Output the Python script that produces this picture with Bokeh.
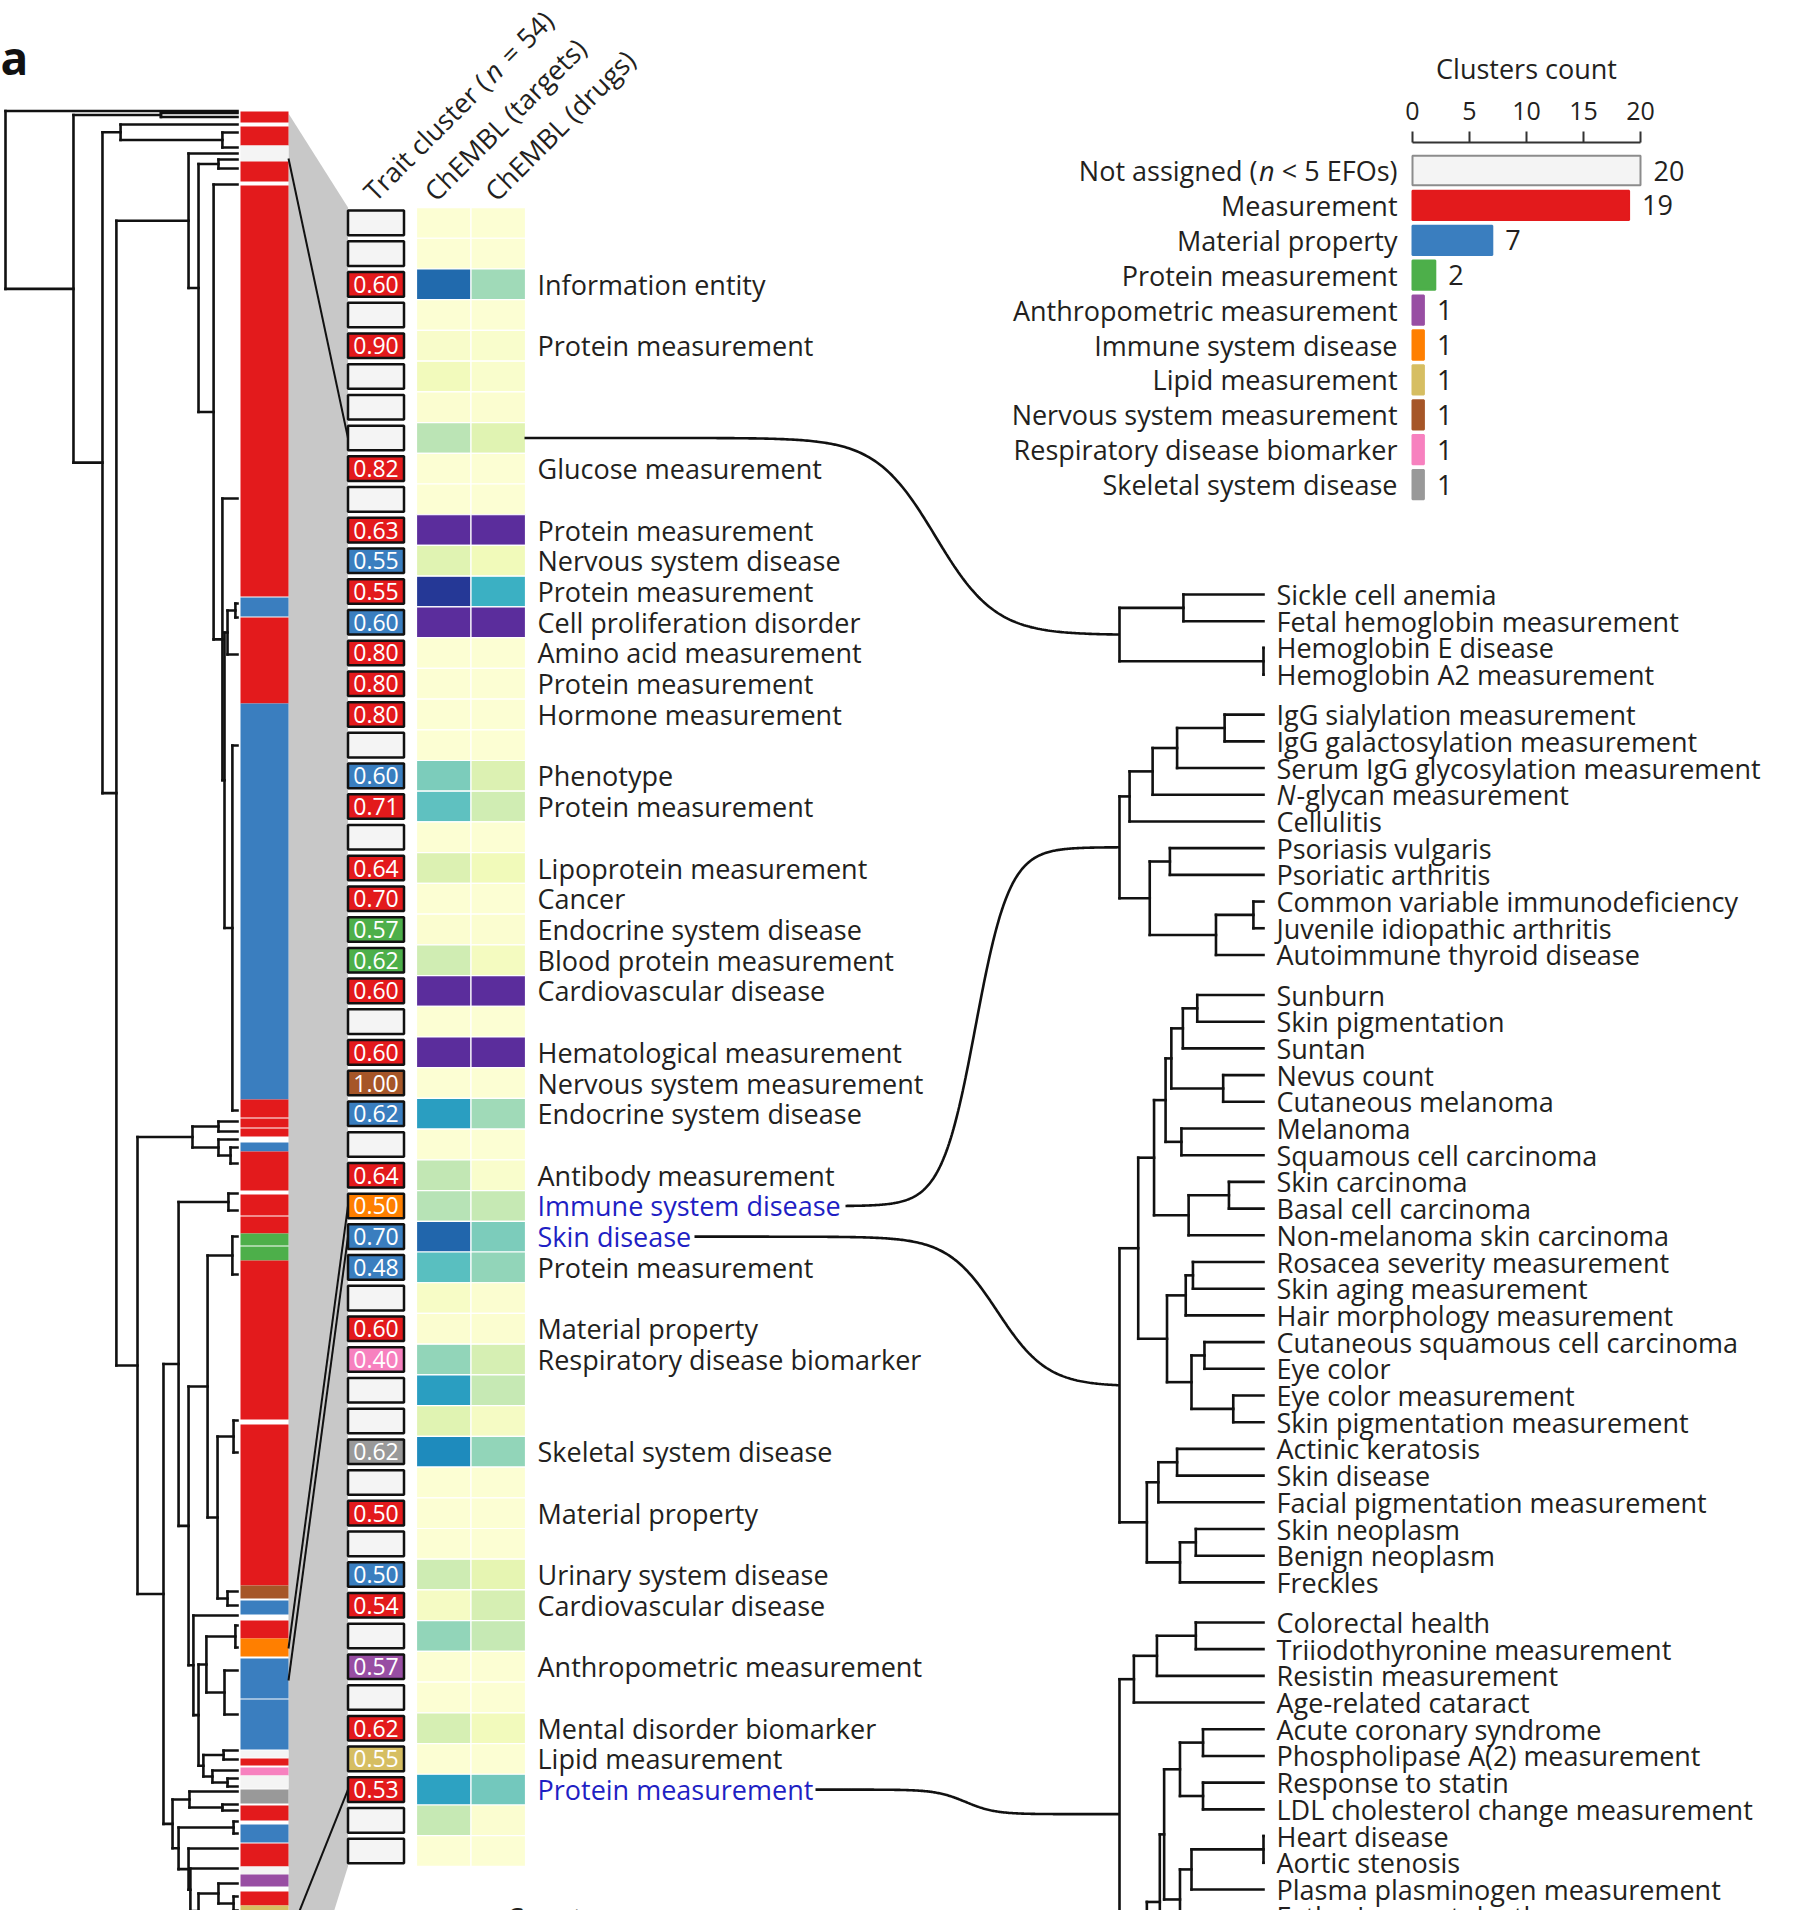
import numpy as np
from bokeh.plotting import figure
from bokeh.models import Range1d, ColumnDataSource, LinearColorMapper
from bokeh.core.properties import value
from bokeh.embed import file_html
from bokeh.resources import INLINE
from bokeh.palettes import YlGnBu9

# ======================= DATA =======================
cat_codes = ["NA", "M", "MP", "PM", "AM", "ISD", "LM", "NSM", "RDB", "SSD"]
cat_colors = {"NA": "#f4f4f4", "M": "#e31a1c", "MP": "#3a7ebf", "PM": "#4daf4a", "AM": "#984ea3",
              "ISD": "#ff7f00", "LM": "#d6be62", "NSM": "#a65628", "RDB": "#f781bf", "SSD": "#999999"}

# bar chart (clusters count)
bar_labels = ["Not assigned (n < 5 EFOs)", "Measurement", "Material property", "Protein measurement",
              "Anthropometric measurement", "Immune system disease", "Lipid measurement",
              "Nervous system measurement", "Respiratory disease biomarker", "Skeletal system disease"]
bar_counts = [20, 19, 7, 2, 1, 1, 1, 1, 1, 1]
bar_cats = ["NA", "M", "MP", "PM", "AM", "ISD", "LM", "NSM", "RDB", "SSD"]
axis_ticks = [0, 5, 10, 15, 20]

# 54 trait clusters
trait_scores = [None, None, 0.60, None, 0.90, None, None, None, 0.82, None,
                0.63, 0.55, 0.55, 0.60, 0.80, 0.80, 0.80, None, 0.60, 0.71,
                None, 0.64, 0.70, 0.57, 0.62, 0.60, None, 0.60, 1.00, 0.62,
                None, 0.64, 0.50, 0.70, 0.48, None, 0.60, 0.40, None, None,
                0.62, None, 0.50, None, 0.50, 0.54, None, 0.57, None, 0.62,
                0.55, 0.53, None, None]
trait_cats = ["NA", "NA", "M", "NA", "M", "NA", "NA", "NA", "M", "NA",
              "M", "MP", "M", "MP", "M", "M", "M", "NA", "MP", "M",
              "NA", "M", "M", "PM", "PM", "M", "NA", "M", "NSM", "MP",
              "NA", "M", "ISD", "MP", "MP", "NA", "M", "RDB", "NA", "NA",
              "SSD", "NA", "M", "NA", "MP", "M", "NA", "AM", "NA", "M",
              "LM", "M", "NA", "NA"]
trait_labels = ["", "", "Information entity", "", "Protein measurement", "", "", "", "Glucose measurement", "",
                "Protein measurement", "Nervous system disease", "Protein measurement", "Cell proliferation disorder",
                "Amino acid measurement", "Protein measurement", "Hormone measurement", "", "Phenotype",
                "Protein measurement",
                "", "Lipoprotein measurement", "Cancer", "Endocrine system disease", "Blood protein measurement",
                "Cardiovascular disease", "", "Hematological measurement", "Nervous system measurement",
                "Endocrine system disease",
                "", "Antibody measurement", "Immune system disease", "Skin disease", "Protein measurement", "",
                "Material property", "Respiratory disease biomarker", "", "",
                "Skeletal system disease", "", "Material property", "", "Urinary system disease",
                "Cardiovascular disease", "", "Anthropometric measurement", "", "Mental disorder biomarker",
                "Lipid measurement", "Protein measurement", "", ""]
highlighted_rows = [32, 33, 51]

SAT = 2.0  # above the colour scale (purple cells)
chembl_targets = [0.02, 0.02, 0.72, 0.02, 0.05, 0.09, 0.03, 0.27, 0.02, 0.02,
                  SAT, 0.17, 0.86, SAT, 0.02, 0.02, 0.02, 0.02, 0.38, 0.44,
                  0.02, 0.18, 0.02, 0.03, 0.22, SAT, 0.02, SAT, 0.02, 0.58,
                  0.02, 0.26, 0.28, 0.73, 0.45, 0.06, 0.03, 0.34, 0.58, 0.17,
                  0.64, 0.02, 0.02, 0.02, 0.23, 0.07, 0.34, 0.02, 0.02, 0.20,
                  0.02, 0.57, 0.25, 0.02]
chembl_drugs = [0.02, 0.02, 0.32, 0.02, 0.04, 0.04, 0.03, 0.17, 0.02, 0.02,
                SAT, 0.10, 0.52, SAT, 0.02, 0.02, 0.02, 0.02, 0.18, 0.22,
                0.02, 0.10, 0.02, 0.03, 0.08, SAT, 0.02, SAT, 0.02, 0.32,
                0.02, 0.04, 0.25, 0.38, 0.34, 0.03, 0.03, 0.20, 0.25, 0.07,
                0.34, 0.02, 0.02, 0.02, 0.15, 0.20, 0.25, 0.02, 0.02, 0.09,
                0.02, 0.40, 0.03, 0.02]

# colour strip of all traits (positions along the strip, category)
strip_start = [113, 128, 147, 163, 187, 599, 619, 705, 1101, 1120, 1130, 1144, 1153, 1196, 1218, 1235, 1248,
               1262, 1426, 1587, 1602, 1622, 1640, 1660, 1701, 1752, 1760, 1769, 1777, 1791, 1807, 1826, 1845,
               1868, 1876, 1893, 1907]
strip_end = [124, 147, 163, 183, 598, 618, 705, 1101, 1119, 1129, 1138, 1153, 1192, 1217, 1235, 1247, 1262,
             1421, 1587, 1600, 1616, 1640, 1658, 1700, 1751, 1759, 1767, 1777, 1790, 1805, 1822, 1844, 1868,
             1876, 1888, 1907, 1940]
strip_cat = ["M", "M", "NA", "M", "M", "MP", "M", "MP", "M", "M", "M", "MP", "M", "M", "M", "PM", "PM",
             "M", "M", "NSM", "MP", "M", "ISD", "MP", "MP", "NA", "M", "RDB", "NA", "SSD", "M", "MP", "M",
             "NA", "AM", "M", "LM"]

# left dendrogram: (merge height, child, child); leaves = strip positions
n222b = (0.065, 500, (0.056, (0.043, (0.009, 605, 619), 656), (0.022, 747, 1112)))
n188 = (0.211, 155, (0.168, (0.082, 161, 170), (0.103, 186, n222b)))
n192 = (0.194, (0.082, 1123, 1133), (0.082, 1141, (0.03, 1149, 1165)))
n207 = (0.129, (0.022, 1238, 1276), (0.086, (0.017, 1422, 1454), (0.043, 1593, 1607)))
n193 = (0.19, 1617, (0.168, (0.134, (0.009, 1627, 1649), (0.056, 1672, 1716)),
                     (0.147, (0.06, 1752, 1761), (0.108, 1772, (0.043, 1780, 1788)))))
n178 = (0.254, (0.039, 1195, 1212), (0.211, n207, n193))
n172 = (0.28, (0.207, 1793, (0.065, 1806, 1812)),
        (0.254, (0.017, 1823, 1835), (0.211, 1850, (0.203, 1870, (0.168, (0.082, 1885, (0.017, 1898, 1912)), 1930)))))
n116 = (0.522, n188, (0.431, n192, (0.319, n178, n172)))
left_tree = (1.0, 112.5, (0.707, (0.33, 114.5, 118.5), (0.582, (0.504, 126, (0.065, 134, 149)), n116)))

# right dendrograms (terms of highlighted clusters)
right_groups = [
    ["Sickle cell anemia", "Fetal hemoglobin measurement", "Hemoglobin E disease", "Hemoglobin A2 measurement"],
    ["IgG sialylation measurement", "IgG galactosylation measurement", "Serum IgG glycosylation measurement",
     "N-glycan measurement", "Cellulitis", "Psoriasis vulgaris", "Psoriatic arthritis",
     "Common variable immunodeficiency", "Juvenile idiopathic arthritis", "Autoimmune thyroid disease"],
    ["Sunburn", "Skin pigmentation", "Suntan", "Nevus count", "Cutaneous melanoma", "Melanoma",
     "Squamous cell carcinoma", "Skin carcinoma", "Basal cell carcinoma", "Non-melanoma skin carcinoma",
     "Rosacea severity measurement", "Skin aging measurement", "Hair morphology measurement",
     "Cutaneous squamous cell carcinoma", "Eye color", "Eye color measurement", "Skin pigmentation measurement",
     "Actinic keratosis", "Skin disease", "Facial pigmentation measurement", "Skin neoplasm", "Benign neoplasm",
     "Freckles"],
    ["Colorectal health", "Triiodothyronine measurement", "Resistin measurement", "Age-related cataract",
     "Acute coronary syndrome", "Phospholipase A(2) measurement", "Response to statin",
     "LDL cholesterol change measurement", "Heart disease", "Aortic stenosis", "Plasma plasminogen measurement",
     "Father's age at death", "", "", ""],
]
group_start = [0, 4.5, 15, 38.5]
right_trees = [
    (1.0, (0.556, 0, 1), (0.0, 2, 3)),
    (1.0, (0.93, (0.77, (0.60, (0.27, 4, 5), 6), 7), 8), (0.79, (0.65, 9, 10), (0.33, (0.07, 11, 12), 13))),
    (1.0, (0.87, (0.76, (0.68, (0.64, (0.56, (0.46, 14, 15), 16), (0.28, 17, 18)), (0.57, 19, 20)),
                  (0.52, (0.24, 21, 22), 23)),
           (0.67, (0.54, (0.49, 24, 25), 26), (0.50, (0.41, 27, 28), (0.21, 29, 30)))),
     (0.81, (0.73, (0.60, 31, 32), 33), (0.58, (0.47, 34, 35), 36))),
    (1.0, (0.90, (0.74, (0.47, 37, 38), 39), 40),
     (0.81, (0.72, (0.69, (0.58, (0.42, 41, 42), (0.42, 43, 44)),
                    (0.58, (0.50, (0.0, 45, 46), 47), (0.31, 48, 49))), 50), 51)),
]
# links: heatmap row -> right group
link_rows = [7, 32, 33, 51]
link_groups = [0, 1, 2, 3]
# strip position of each highlighted cluster -> its row
zoom_strip_pos = [160, 1650, 1682, 1940]
zoom_rows = [7, 32, 33, 51]

# ======================= LAYOUT =======================
FONT = value("Open Sans")
INK = "#231f20"
X0, X1, YB, YT = 0, 1778, 1912, 2
ROW_Y0, ROW_DY = 224.4, 30.72
BAR_Y0, BAR_DY = 172.0, 34.9
CNT_X0, CNT_DX = 1412.0, 11.4
RL_Y0, RL_DY = 596.0, 26.7
LT_X0, LT_DX = 237.0, -232.0
RT_X0, RT_DX = 1263.0, -144.0
STRIP_L, STRIP_R = 240, 288
BOX_X, BOX_W = 375.5, 56
HM_X = [443.25, 497.75]
HM_W = 54.5
LABEL_X = 537
RLABEL_X = 1276


def hr(o, s):
    return Range1d((X0 - o) / s, (X1 - o) / s)


def vr(o, s):
    return Range1d((YB - o) / s, (YT - o) / s)


p = figure(width=1778, height=1910, x_range=Range1d(X0, X1), y_range=Range1d(YB, YT),
           output_backend="svg", toolbar_location=None, min_border=0,
           x_axis_location=None, y_axis_location=None)
p.grid.visible = False
p.outline_line_color = None
p.extra_x_ranges = {"cnt": hr(CNT_X0, CNT_DX), "lh": hr(LT_X0, LT_DX), "rh": hr(RT_X0, RT_DX)}
p.extra_y_ranges = {"row": vr(ROW_Y0, ROW_DY), "bar": vr(BAR_Y0, BAR_DY), "rleaf": vr(RL_Y0, RL_DY)}


def row_y(r):
    return ROW_Y0 + r * ROW_DY


def layout_tree(node, pos, segs):
    if not isinstance(node, tuple):
        return pos(node), 0.0
    h, a, b = node
    ya, ha = layout_tree(a, pos, segs)
    yb, hb = layout_tree(b, pos, segs)
    segs += [(h, ya, h, yb), (h, ya, ha, ya), (h, yb, hb, yb)]
    return (ya + yb) / 2.0, h


# ---- grey zoom wedge ----
top_box = ROW_Y0 - ROW_DY / 2
bot_box = ROW_Y0 + (len(trait_scores) - 0.5) * ROW_DY
p.patch(x=[STRIP_R, BOX_X - BOX_W / 2, BOX_X - BOX_W / 2, STRIP_R],
        y=[min(strip_start) + 2, top_box, bot_box, bot_box + 190], color="#c8c8c8", line_color=None)

# ---- colour strip ----
p.quad(left=STRIP_L, right=STRIP_R, top=strip_start, bottom=strip_end,
       fill_color=[cat_colors[c] for c in strip_cat], line_color=None)

# ---- left dendrogram ----
segs = []
layout_tree(left_tree, lambda v: v, segs)
s = np.array(segs)
p.segment(x0=s[:, 0], y0=s[:, 1], x1=s[:, 2], y1=s[:, 3], x_range_name="lh",
          line_color="#111111", line_width=2.6, line_cap="square")

# ---- lines from strip to cluster boxes ----
p.segment(x0=[STRIP_R] * 4, y0=zoom_strip_pos, x1=[BOX_X - BOX_W / 2] * 4,
          y1=[row_y(r) for r in zoom_rows], line_color="#111111", line_width=2)

# ---- heatmap ----
base = list(reversed(YlGnBu9))
rgb = np.array([[int(c[i:i + 2], 16) for i in (1, 3, 5)] for c in base], float)
tt = np.linspace(0, 1, 256)
pp = np.linspace(0, 1, 9)
pal = ["#%02x%02x%02x" % tuple(int(round(np.interp(t, pp, rgb[:, k]))) for k in range(3)) for t in tt]
mapper = LinearColorMapper(palette=pal, low=0, high=1, high_color="#5b2d9c")
rows = list(range(len(trait_scores)))
hm = ColumnDataSource(dict(x=[HM_X[0]] * len(rows) + [HM_X[1]] * len(rows), y=rows + rows,
                           v=chembl_targets + chembl_drugs))
p.rect(x="x", y="y", width=HM_W, height=1.0, source=hm, y_range_name="row",
       fill_color={"field": "v", "transform": mapper}, line_color="white", line_width=1.2)

# ---- trait cluster boxes ----
p.rect(x=[BOX_X] * len(rows), y=rows, width=BOX_W, height=0.8, y_range_name="row",
       fill_color=[cat_colors[c] for c in trait_cats], line_color="#111111", line_width=2.5)
sc_rows = [r for r in rows if trait_scores[r] is not None]
p.text(x=[BOX_X] * len(sc_rows), y=sc_rows, text=["%.2f" % trait_scores[r] for r in sc_rows],
       y_range_name="row", text_align="center", text_baseline="middle", text_font=FONT,
       text_font_size="23px", text_color="white")

# ---- row labels ----
lab_rows = [r for r in rows if trait_labels[r]]
p.text(x=[LABEL_X] * len(lab_rows), y=lab_rows, text=[trait_labels[r] for r in lab_rows],
       y_range_name="row", text_align="left", text_baseline="middle", text_font=FONT,
       text_font_size="27px",
       text_color=["#1f1fc4" if r in highlighted_rows else INK for r in lab_rows])

# ---- rotated column headers ----
c45 = np.cos(np.pi / 4)
hx = [BOX_X - 8, HM_X[0] - 15, HM_X[1] - 9]
hy = top_box - 12
pieces = [("Trait cluster (", 0, "normal", 0), ("n", 168, "italic", 0), ("=", 193, "normal", 0),
          ("54)", 216, "normal", 0),
          ("ChEMBL (targets)", 0, "normal", 1), ("ChEMBL (drugs)", 0, "normal", 2)]
for txt, d, style, col in pieces:
    p.text(x=[hx[col] + d * c45], y=[hy - d * c45], text=[txt], angle=np.pi / 4,
           text_align="left", text_baseline="alphabetic", text_font=FONT, text_font_size="27px",
           text_font_style=style, text_color=INK)

# ---- panel letter ----
p.text(x=[0], y=[58], text=["a"], text_align="left", text_baseline="alphabetic",
       text_font=FONT, text_font_size="46px", text_font_style="bold", text_color="#111111")

# ---- bar chart ----
ks = list(range(len(bar_counts)))
p.hbar(y=ks, left=0, right=bar_counts, height=0.84, x_range_name="cnt", y_range_name="bar",
       fill_color=[cat_colors[c] for c in bar_cats],
       line_color=["#8c8c8c" if c == "NA" else cat_colors[c] for c in bar_cats], line_width=2)
p.text(x=bar_counts, y=ks, text=[str(c) for c in bar_counts], x_offset=13, x_range_name="cnt",
       y_range_name="bar", text_align="left", text_baseline="middle", text_font=FONT,
       text_font_size="27px", text_color=INK)
p.text(x=[0] * (len(ks) - 1), y=ks[1:], text=bar_labels[1:], x_offset=-15, x_range_name="cnt",
       y_range_name="bar", text_align="right", text_baseline="middle", text_font=FONT,
       text_font_size="27px", text_color=INK)
for txt, off, style in [("< 5 EFOs)", -15, "normal"), ("n", -138, "italic"), ("Not assigned (", -155, "normal")]:
    p.text(x=[0], y=[0], text=[txt], x_offset=off, x_range_name="cnt", y_range_name="bar",
           text_align="right", text_baseline="middle", text_font=FONT, text_font_size="27px",
           text_font_style=style, text_color=INK)
# axis drawn on the count scale
AX_Y = 144
p.segment(x0=[axis_ticks[0]], y0=[AX_Y], x1=[axis_ticks[-1]], y1=[AX_Y], x_range_name="cnt",
          line_color="#333333", line_width=2)
p.segment(x0=axis_ticks, y0=[AX_Y] * 5, x1=axis_ticks, y1=[AX_Y - 11] * 5, x_range_name="cnt",
          line_color="#333333", line_width=2)
p.text(x=axis_ticks, y=[AX_Y - 32] * 5, text=[str(t) for t in axis_ticks], x_range_name="cnt",
       text_align="center", text_baseline="middle", text_font=FONT, text_font_size="25px", text_color=INK)
p.text(x=[(axis_ticks[0] + axis_ticks[-1]) / 2], y=[AX_Y - 74], text=["Clusters count"], x_range_name="cnt",
       text_align="center", text_baseline="middle", text_font=FONT, text_font_size="27px", text_color=INK)

# ---- right dendrograms ----
leaf_pos, leaf_names = [], []
for g, names in enumerate(right_groups):
    for k, nm in enumerate(names):
        leaf_pos.append(group_start[g] + k)
        leaf_names.append(nm)
rsegs, roots = [], []
for tr in right_trees:
    y, h = layout_tree(tr, lambda k: leaf_pos[k], rsegs)
    roots.append((y, h))
rs = np.array(rsegs)
p.segment(x0=rs[:, 0], y0=rs[:, 1], x1=rs[:, 2], y1=rs[:, 3], x_range_name="rh", y_range_name="rleaf",
          line_color="#111111", line_width=2.6, line_cap="square")
plain = [i for i, n in enumerate(leaf_names) if n and not n.startswith("N-")]
p.text(x=[RLABEL_X] * len(plain), y=[leaf_pos[i] for i in plain], text=[leaf_names[i] for i in plain],
       y_range_name="rleaf", text_align="left", text_baseline="middle", text_font=FONT,
       text_font_size="27px", text_color=INK)
for i, n in enumerate(leaf_names):
    if n.startswith("N-"):
        p.text(x=[RLABEL_X], y=[leaf_pos[i]], text=["N"], y_range_name="rleaf", text_align="left",
               text_baseline="middle", text_font=FONT, text_font_size="27px", text_font_style="italic",
               text_color=INK)
        p.text(x=[RLABEL_X], y=[leaf_pos[i]], text=[n[1:]], x_offset=20, y_range_name="rleaf",
               text_align="left", text_baseline="middle", text_font=FONT, text_font_size="27px",
               text_color=INK)

# ---- connector curves (heatmap row -> dendrogram root) ----
curve_x0 = [524, 845, 694, 815]
curve_mid = [935, 975, 997, 965]
curve_w = [30, 17, 25, 15]


def sig(z):
    return 1.0 / (1.0 + np.exp(-z))


xs_all, ys_all = [], []
for r, g, x0, xc, w in zip(link_rows, link_groups, curve_x0, curve_mid, curve_w):
    yroot, hroot = roots[g]
    xe = RT_X0 + RT_DX * hroot
    y0 = row_y(r)
    y1 = RL_Y0 + RL_DY * yroot
    xs = np.linspace(x0, xe, 300)
    a0, a1 = sig((x0 - xc) / w), sig((xe - xc) / w)
    ys = y0 + (y1 - y0) * (sig((xs - xc) / w) - a0) / (a1 - a0)
    xs_all.append(list(xs))
    ys_all.append(list(ys))
p.multi_line(xs=xs_all, ys=ys_all, line_color="#111111", line_width=2.6)

# ---- start of the next panel's title (cut by the bottom edge, as in the figure) ----
p.text(x=[506], y=[1900], text=["Counts"], text_align="left", text_baseline="top",
       text_font=FONT, text_font_size="27px", text_color=INK)

open("out.html", "w").write(file_html(p, INLINE))
